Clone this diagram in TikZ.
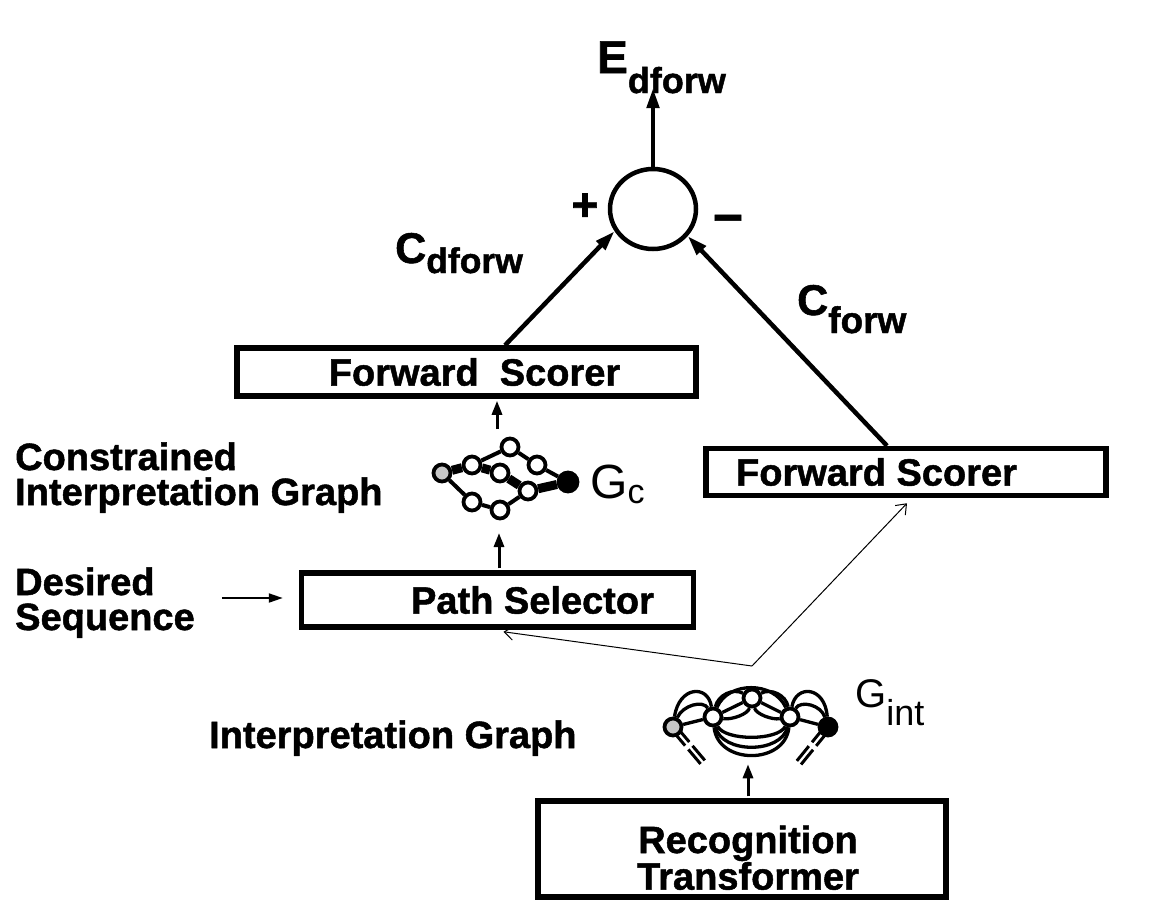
\documentclass[tikz,border=0pt]{standalone}
\usepackage{fontspec}
\setmainfont{Liberation Sans}[BoldFeatures={FakeBold=1.3}]
\usetikzlibrary{arrows.meta,shapes.geometric,calc}
\newcommand{\fsz}[2]{\fontsize{#1}{#2}\selectfont}
\begin{document}
\begin{tikzpicture}[x=1pt,y=-1pt,
  box/.style={draw, line width=5.5pt, inner sep=0pt, font=\fsz{38}{35}\bfseries, align=center},
  lbl/.style={inner sep=0pt, font=\fsz{38}{35}\bfseries, align=left},
  bigarrow/.style={line width=4.5pt, -{Triangle[length=20pt,width=12pt]}},
  smallarrow/.style={line width=3pt, -{Triangle[length=14pt,width=10pt]}},
  thinarrow/.style={line width=1pt, -{Straight Barb[length=9pt,width=14pt]}},
  gnode/.style={circle, draw, line width=3.8pt, fill=white, minimum size=17pt, inner sep=0pt},
  gedge/.style={line width=4pt},
  gbold/.style={line width=9pt},
  iedge/.style={line width=3.3pt},
  dashpair/.style={line width=3pt, dash pattern=on 22pt off 5pt on 19pt off 60pt},
]
\fill[white] (0,0) rectangle (1152,916);
\useasboundingbox (0,0) rectangle (1152,916);

% boxes
\node[box, minimum width=459pt, minimum height=48pt] (fs1) at (466.5,372) {\hspace*{16pt}Forward~~Scorer};
\node[box, minimum width=400pt, minimum height=47pt] (fs2) at (906,472) {Forward Scorer\hspace*{59pt}};
\node[box, minimum width=392pt, minimum height=54pt] (ps) at (497.5,600) {\hspace*{70pt}Path Selector};
\node[box, minimum width=408pt, minimum height=96pt] (rt) at (742,849) {\rule{0pt}{45pt}\hspace*{12pt}Recognition\\\hspace*{12pt}Transformer};

% summation circle
\node[ellipse, draw, line width=4.5pt, minimum width=86pt, minimum height=80pt, inner sep=0pt] (sum) at (653,209) {};
\node[inner sep=0pt, font=\fsz{46}{46}\bfseries] (plus) at (585,207) {+};
\node[inner sep=0pt, font=\fsz{52}{52}\bfseries] (minus) at (728,225) {\char"2212};

% labels
\node[inner sep=0pt, anchor=base west] (elbl) at (597,73) {\bfseries\fsz{46}{46}E\raisebox{-20pt}{\fsz{36}{36}dforw}};
\node[inner sep=0pt, anchor=base west] (cdl) at (395,263) {\bfseries\fsz{43}{43}C\raisebox{-10pt}{\fsz{35.5}{36}dforw}};
\node[inner sep=0pt, anchor=base west] (cfl) at (797,315) {\bfseries\fsz{43}{43}C\raisebox{-18pt}{\fsz{37}{37}forw}};
\node[inner sep=0pt, anchor=base west] (gcl) at (590,498) {\fsz{48}{48}G\raisebox{-5pt}{\fsz{34}{34}c}};
\node[inner sep=0pt, anchor=base west] (gil) at (855,707) {\fsz{40}{40}G\raisebox{-18pt}{\fsz{36}{36}int}};
\node[lbl, anchor=base west] (cig) at (15,505) {Constrained\\Interpretation Graph};
\node[lbl, anchor=base west] (ds) at (15,630) {Desired\\Sequence};
\node[lbl, anchor=base west] (ig) at (209,748) {Interpretation Graph};

% constrained graph Gc
\node[gnode, fill=gray!45] (c0) at (442,473) {};
\node[gnode] (ca) at (472,465) {};
\node[gnode] (ct) at (510,447) {};
\node[gnode] (cb) at (537,465) {};
\node[gnode] (cm) at (500,473) {};
\node[gnode] (cc) at (528,491) {};
\node[gnode, fill=black, minimum size=19pt] (ck) at (568,482) {};
\node[gnode] (cd) at (472,502) {};
\node[gnode] (ce) at (500,510) {};
\draw[gedge] (ca)--(ct) (ct)--(cb) (cb)--(ck) (c0)--(cd) (cd)--(ce) (ce)--(cc);
\draw[gbold] (c0)--(ca) (ca)--(cm) (cm)--(cc) (cc)--(ck);

% interpretation graph Gint
\coordinate (p0) at (673,727);
\coordinate (p4) at (828,727);
\draw[dashpair] ($(p0)+(2.1,-1.8)$) -- ++(31,36.7);
\draw[dashpair] ($(p0)-(2.1,-1.8)$) -- ++(31,36.7);
\draw[dashpair] ($(p4)+(2.1,1.8)$) -- ++(-30.3,37.2);
\draw[dashpair] ($(p4)-(2.1,1.8)$) -- ++(-30.3,37.2);
\node[gnode, fill=gray!45] (g0) at (p0) {};
\node[gnode] (g1) at (713,717) {};
\node[gnode] (g2) at (752,698) {};
\node[gnode] (g3) at (790,717) {};
\node[gnode, fill=black] (g4) at (p4) {};
\draw[iedge] (g0)--(g1);
\draw[iedge] (g0) .. controls (683,705) and (703,700) .. (g1);
\draw[iedge] (g0) .. controls (679,686) and (708,684) .. (g1);
\draw[iedge] (g1)--(g2);
\draw[iedge] (g1) .. controls (718,695) and (733,688) .. (g2);
\draw[iedge] (g1) .. controls (732,720) and (748,714) .. (g2);
\draw[iedge] (g2)--(g3);
\draw[iedge] (g2) .. controls (771,688) and (786,695) .. (g3);
\draw[iedge] (g2) .. controls (756,714) and (772,720) .. (g3);
\draw[iedge] (g3)--(g4);
\draw[iedge] (g3) .. controls (801,700) and (821,705) .. (g4);
\draw[iedge] (g3) .. controls (796,684) and (825,686) .. (g4);
\draw[iedge] (g1) .. controls (728,681) and (774,681) .. (g3);
\draw[iedge] (g1) .. controls (725,741) and (778,741) .. (g3);
\draw[iedge] (g1) .. controls (722,754) and (781,754) .. (g3);
\draw[iedge] (g1) .. controls (718,765) and (785,765) .. (g3);

% connectors
\coordinate (etip) at (653,88);
\draw[bigarrow] (sum.north) -- (etip);
\draw[bigarrow] ([xshift=38.5pt]fs1.north) -- (sum.210);
\draw[bigarrow] ([xshift=-19pt]fs2.north) -- (sum.322);
\coordinate (gcin) at (497,429);
\draw[smallarrow] (gcin) -- ([yshift=-2pt]gcin |- fs1.south);
\coordinate (gcout) at (499,533);
\draw[smallarrow] ([xshift=1.5pt,yshift=2pt]ps.north) -- (gcout);
\draw[smallarrow] ([xshift=6pt,yshift=2pt]rt.north) -- ++(0,-32);
\draw[line width=2pt, -{Triangle[length=14pt,width=9pt]}, shorten <=27pt, shorten >=16pt] (ds.east |- 0,598) -- (ps.west |- 0,598);
\coordinate (fork) at (752,666);
\draw[thinarrow] (fork) -- ([xshift=6pt,yshift=-2pt]ps.south);
\draw[thinarrow] (fork) -- ([xshift=1pt,yshift=-5pt]fs2.south);
\end{tikzpicture}
\end{document}
